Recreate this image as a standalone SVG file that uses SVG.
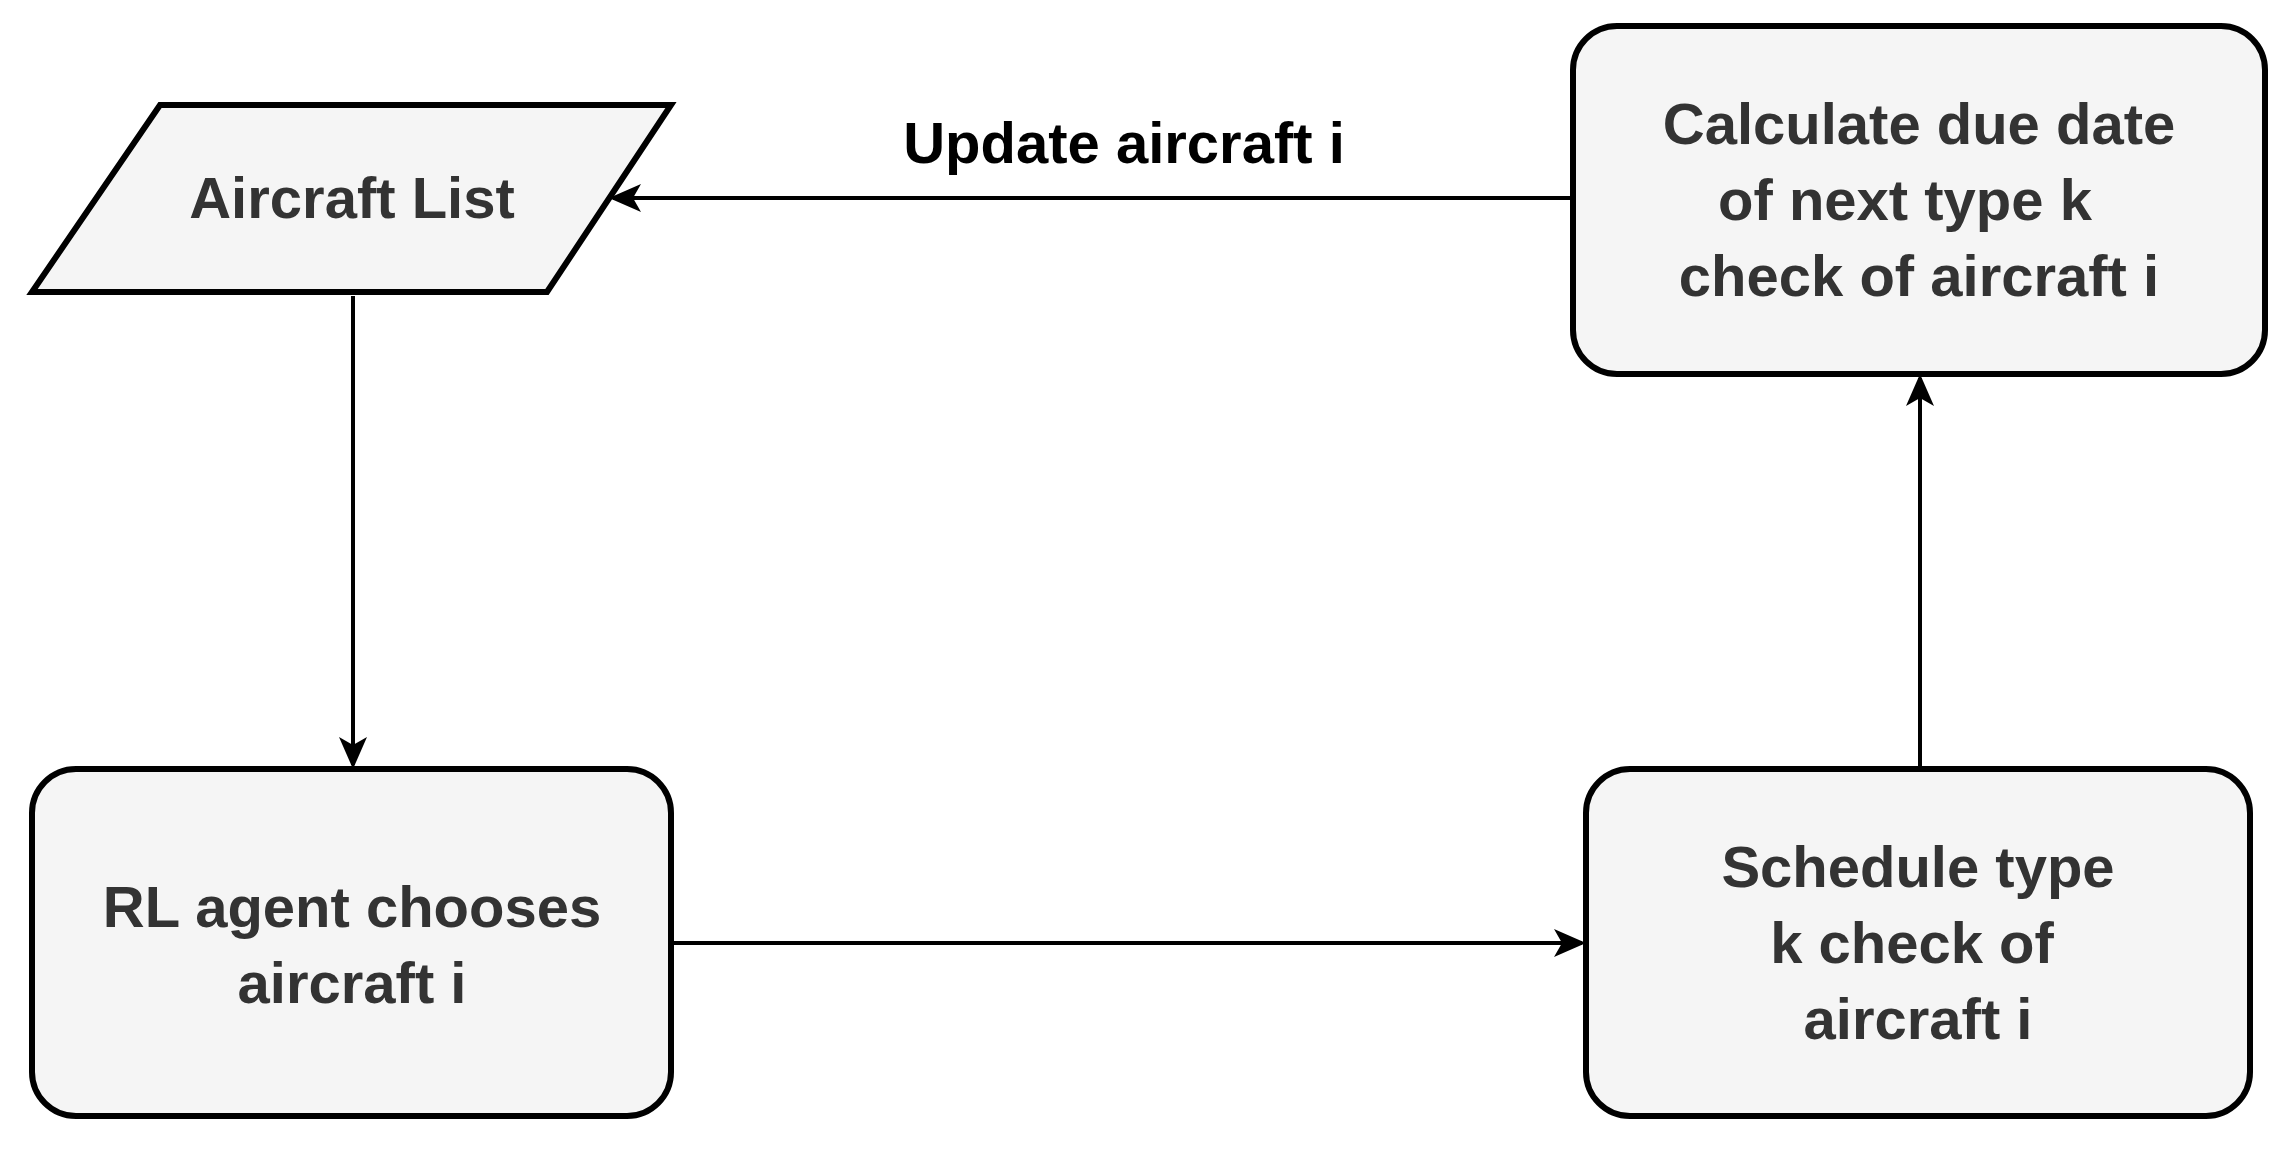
<svg xmlns="http://www.w3.org/2000/svg" width="2288" height="1152" viewBox="0 0 2288 1152">
<style>
.n{fill:#f5f5f5;stroke:#000;stroke-width:6}
.t{font-family:"Liberation Sans",Arial,sans-serif;font-weight:bold;font-size:58px;fill:#333;text-anchor:middle}
.c{stroke:#000;stroke-width:4;fill:none;marker-end:url(#a)}
</style>
<defs><marker id="a" markerUnits="userSpaceOnUse" markerWidth="40" markerHeight="40" refX="30" refY="20" orient="auto" viewBox="0 0 40 40"><path d="M2,6 L34,20 L2,34 L10,20 Z" fill="#000"/></marker></defs>
<rect width="2288" height="1152" fill="#fff"/>
<g id="connectors">
<path class="c" d="M353,296 V765"/>
<path class="c" d="M671,943 H1582"/>
<path class="c" d="M1920,769 V378"/>
<path class="c" d="M1573,198 H613"/>
<text x="1124" y="163" class="t" style="fill:#000">Update aircraft i</text>
</g>
<g id="aircraft-list"><polygon class="n" points="160,105 671,105 547,292 32,292"/><text class="t" x="352" y="218">Aircraft List</text></g>
<g id="calc"><rect class="n" x="1573" y="26" width="692" height="348" rx="44"/><text class="t" x="1919" y="144">Calculate due date</text><text class="t" x="1905" y="220">of next type k</text><text class="t" x="1919" y="296">check of aircraft i</text></g>
<g id="rl"><rect class="n" x="32" y="769" width="639" height="347" rx="44"/><text class="t" x="352" y="927">RL agent chooses</text><text class="t" x="352" y="1003">aircraft i</text></g>
<g id="schedule"><rect class="n" x="1586" y="769" width="664" height="347" rx="44"/><text class="t" x="1918" y="887">Schedule type</text><text class="t" x="1912" y="963">k check of</text><text class="t" x="1918" y="1039">aircraft i</text></g>
</svg>
